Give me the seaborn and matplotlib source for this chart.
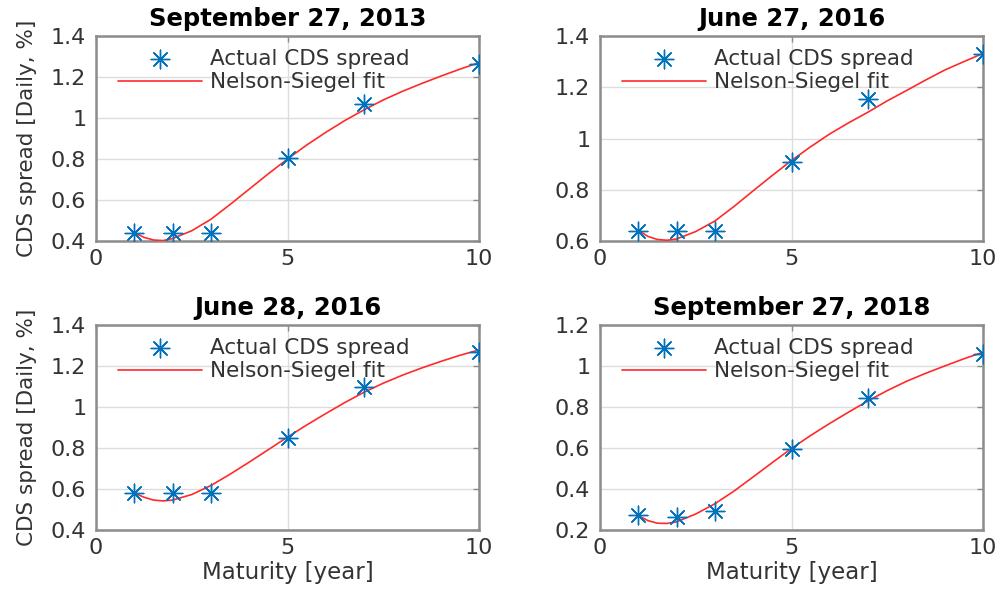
import numpy as np
import pandas as pd
import matplotlib
matplotlib.use("Agg")
import matplotlib.pyplot as plt
import seaborn as sns

# ---- data ----
titles = ["September 27, 2013", "June 27, 2016", "June 28, 2016", "September 27, 2018"]
maturities = [1, 2, 3, 5, 7, 10]
cds_2013_09_27 = [0.44, 0.44, 0.44, 0.805, 1.067, 1.262]
cds_2016_06_27 = [0.639, 0.64, 0.64, 0.907, 1.156, 1.330]
cds_2016_06_28 = [0.579, 0.58, 0.58, 0.849, 1.098, 1.266]
cds_2018_09_27 = [0.272, 0.262, 0.293, 0.593, 0.843, 1.056]

fit_x = [1, 1.25, 1.5, 1.75, 2, 2.5, 3, 3.5, 4, 4.5, 5, 5.5, 6, 6.5, 7, 7.5, 8, 8.5, 9, 9.5, 10]
fit_2013_09_27 = [0.441, 0.418, 0.405, 0.402, 0.412, 0.450, 0.506, 0.578, 0.653, 0.728, 0.800,
                  0.868, 0.930, 0.988, 1.040, 1.088, 1.130, 1.168, 1.204, 1.238, 1.270]
fit_2016_06_27 = [0.642, 0.618, 0.606, 0.603, 0.608, 0.637, 0.678, 0.735, 0.796, 0.856, 0.914,
                  0.968, 1.018, 1.062, 1.103, 1.147, 1.187, 1.228, 1.267, 1.300, 1.332]
fit_2016_06_28 = [0.580, 0.560, 0.546, 0.542, 0.546, 0.573, 0.617, 0.672, 0.731, 0.792, 0.853,
                  0.912, 0.968, 1.022, 1.072, 1.116, 1.155, 1.190, 1.222, 1.252, 1.278]
fit_2018_09_27 = [0.270, 0.246, 0.233, 0.232, 0.240, 0.278, 0.328, 0.390, 0.459, 0.529, 0.598,
                  0.661, 0.720, 0.776, 0.830, 0.880, 0.925, 0.964, 1.000, 1.035, 1.067]

ylims = [(0.4, 1.4), (0.6, 1.4), (0.4, 1.4), (0.2, 1.2)]
yticks = [[0.4, 0.6, 0.8, 1.0, 1.2, 1.4], [0.6, 0.8, 1.0, 1.2, 1.4],
          [0.4, 0.6, 0.8, 1.0, 1.2, 1.4], [0.2, 0.4, 0.6, 0.8, 1.0, 1.2]]
ytick_labels = [["0.4", "0.6", "0.8", "1", "1.2", "1.4"], ["0.6", "0.8", "1", "1.2", "1.4"],
                ["0.4", "0.6", "0.8", "1", "1.2", "1.4"], ["0.2", "0.4", "0.6", "0.8", "1", "1.2"]]
xticks = [0, 5, 10]
xtick_labels = ["0", "5", "10"]

actual = [cds_2013_09_27, cds_2016_06_27, cds_2016_06_28, cds_2018_09_27]
fits = [fit_2013_09_27, fit_2016_06_27, fit_2016_06_28, fit_2018_09_27]

sns.set_theme(style="white")
plt.rcParams['font.family'] = ['DejaVu Sans']

BLUE = "#0072BD"
AXC = "#8c8c8c"
TXT = "#333333"

fig = plt.figure(figsize=(10, 5.9), dpi=100)
positions = [
    (0.096, 0.5915, 0.383, 0.3475),
    (0.600, 0.5915, 0.383, 0.3475),
    (0.096, 0.1017, 0.383, 0.3475),
    (0.600, 0.1017, 0.383, 0.3475),
]

for i in range(4):
    ax = fig.add_axes(positions[i])
    df_pts = pd.DataFrame({"Maturity": maturities, "CDS": actual[i]})
    df_fit = pd.DataFrame({"Maturity": fit_x, "CDS": fits[i]})
    sns.lineplot(data=df_fit, x="Maturity", y="CDS", ax=ax, color="#ff2a2a", lw=1.2,
                 label="Nelson-Siegel fit", zorder=3)
    sns.scatterplot(data=df_pts, x="Maturity", y="CDS", ax=ax, marker=(8, 2, 0), s=180,
                    color=BLUE, edgecolor=BLUE, linewidth=1.0, label="Actual CDS spread", zorder=4)
    ax.set_xlim(0, 10)
    ax.set_ylim(*ylims[i])
    ax.set_xticks(xticks)
    ax.set_xticklabels(xtick_labels)
    ax.set_yticks(yticks[i])
    ax.set_yticklabels(ytick_labels[i])
    ax.grid(True, color="#dcdcdc", lw=1.0)
    ax.set_axisbelow(True)
    for sp in ax.spines.values():
        sp.set_color(AXC)
        sp.set_linewidth(1.8)
        sp.set_visible(True)
    ax.tick_params(direction="in", length=4, width=1.0, color=AXC, labelsize=16,
                   labelcolor=TXT, top=True, right=True)
    ax.tick_params(axis="x", pad=6)
    ax.tick_params(axis="y", pad=7)
    ax.set_title(titles[i], fontsize=17.5, fontweight="bold", color="black", pad=7)
    if i % 2 == 0:
        ax.set_ylabel("CDS spread [Daily, %]", fontsize=15.5, color=TXT, labelpad=10)
    else:
        ax.set_ylabel("")
    if i >= 2:
        ax.set_xlabel("Maturity [year]", fontsize=16.5, color=TXT, labelpad=2)
    else:
        ax.set_xlabel("")
    h, l = ax.get_legend_handles_labels()
    order = [l.index("Actual CDS spread"), l.index("Nelson-Siegel fit")]
    ax.legend([h[j] for j in order], [l[j] for j in order], loc="upper left",
              bbox_to_anchor=(0.025, 1.0), frameon=False, fontsize=15.5,
              handlelength=3.9, handletextpad=0.33, labelspacing=0.15,
              labelcolor=TXT, borderaxespad=0.2)

fig.savefig("out.png", dpi=100, facecolor="white")
